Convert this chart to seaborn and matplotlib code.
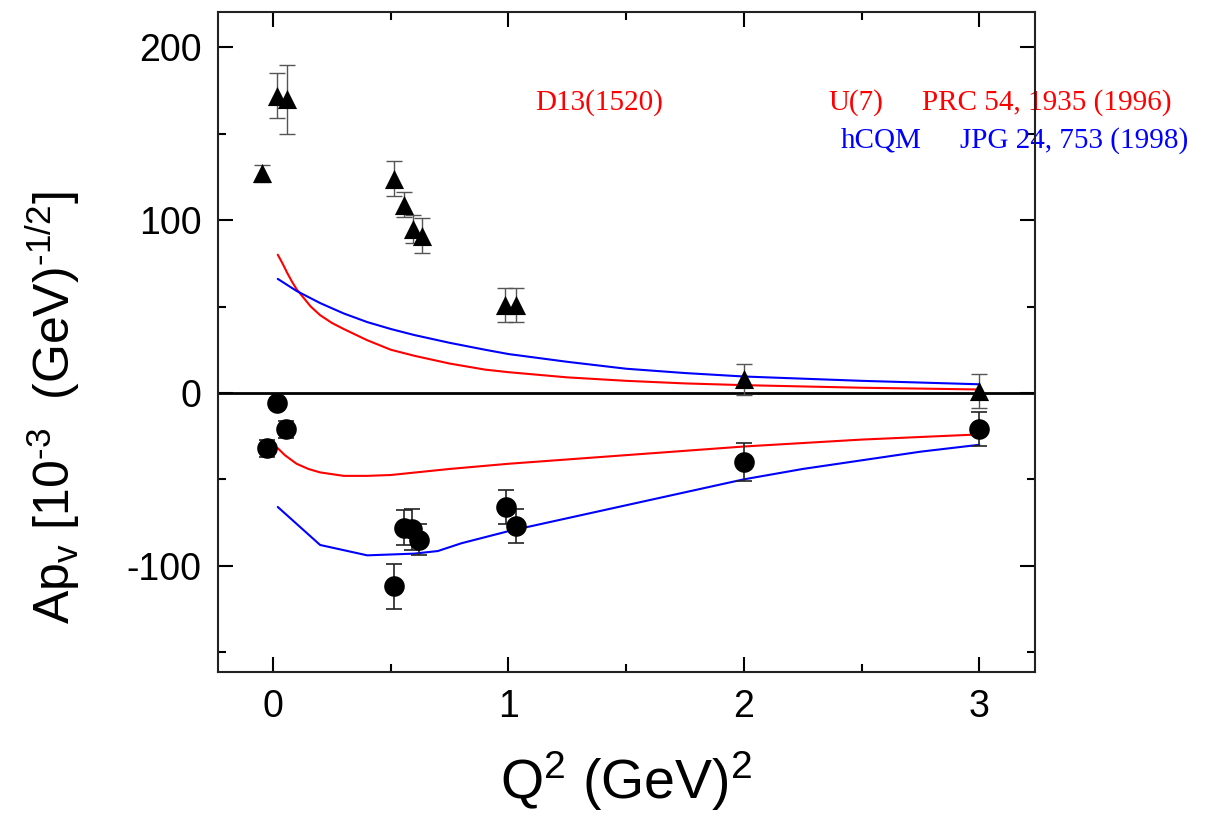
"""Helicity amplitude A^p_v of D13(1520) vs Q^2, data and two quark-model curves."""

import matplotlib
matplotlib.use("Agg")
import matplotlib.pyplot as plt
import numpy as np
import pandas as pd
import seaborn as sns
from matplotlib.ticker import MultipleLocator

# data points: triangles (upper amplitude)
tri_q2 = [-0.047, 0.017, 0.059, 0.514, 0.556, 0.594, 0.633, 0.985, 1.03, 2.0, 3.0]
tri_a = [127, 172, 170, 124, 109, 95, 91, 51, 51, 8, 1]
tri_err = [5, 13, 20, 10, 7, 8, 10, 10, 10, 9, 10]

# data points: circles (lower amplitude)
circ_q2 = [-0.025, 0.017, 0.055, 0.514, 0.556, 0.59, 0.62, 0.99, 1.03, 2.0, 3.0]
circ_a = [-32, -6, -21, -112, -78, -79, -85, -66, -77, -40, -21]
circ_err = [5, 3, 5, 13, 10, 12, 9, 10, 10, 11, 10]

# U(7) model (red)
u7_up_q2 = [0.02, 0.04, 0.06, 0.08, 0.1, 0.13, 0.16, 0.2, 0.25, 0.3, 0.4, 0.5,
            0.6, 0.75, 0.9, 1.0, 1.25, 1.5, 1.75, 2.0, 2.5, 3.0]
u7_up_a = [80, 75, 69.5, 64.5, 60, 55, 50, 45, 40.5, 37, 30.5, 25,
           21.5, 17, 13.5, 12, 9, 7, 5.5, 4.5, 3, 2]
u7_lo_q2 = [0.02, 0.05, 0.1, 0.15, 0.2, 0.3, 0.4, 0.5, 0.75, 1.0, 1.25, 1.5,
            1.75, 2.0, 2.5, 3.0]
u7_lo_a = [-32, -36, -41, -44, -46, -48, -48, -47.5, -44, -41, -38.5, -36,
           -33.5, -31, -27, -24]

# hCQM model (blue)
hcqm_up_q2 = [0.02, 0.06, 0.1, 0.15, 0.2, 0.3, 0.4, 0.5, 0.6, 0.75, 0.9, 1.0,
              1.25, 1.5, 1.75, 2.0, 2.5, 3.0]
hcqm_up_a = [66, 62.5, 59, 55.5, 52, 46, 41, 37, 33.5, 29, 25, 22.5,
             18, 14, 11.5, 9.5, 7, 5]
hcqm_lo_q2 = [0.02, 0.2, 0.4, 0.6, 0.7, 0.8, 0.9, 1.0, 1.25, 1.5, 1.75, 2.0,
              2.25, 2.5, 2.75, 3.0]
hcqm_lo_a = [-66, -88, -94, -93, -91.5, -87, -83.5, -80, -72.5, -65, -57.5, -50,
             -44, -39, -34, -30]

sns.set_theme(style="ticks")
plt.rcParams.update({
    "font.family": ["Liberation Sans", "DejaVu Sans"],
    "mathtext.fontset": "custom",
    "mathtext.rm": "Liberation Sans",
    "mathtext.it": "Liberation Sans",
    "axes.linewidth": 1.5,
    "axes.unicode_minus": False,
    "text.color": "black",
    "axes.labelcolor": "black",
    "xtick.color": "black",
    "ytick.color": "black",
    "xtick.direction": "in",
    "ytick.direction": "in",
})

fig = plt.figure(figsize=(12.17, 8.22), dpi=100)
ax = fig.add_axes([0.1791, 0.1825, 0.6713, 0.803])

curves = [
    (u7_up_q2, u7_up_a, "#ff0000"),
    (u7_lo_q2, u7_lo_a, "#ff0000"),
    (hcqm_up_q2, hcqm_up_a, "#0000ff"),
    (hcqm_lo_q2, hcqm_lo_a, "#0000ff"),
]
for xs, ys, col in curves:
    df = pd.DataFrame({"q2": xs, "a": ys})
    sns.lineplot(data=df, x="q2", y="a", color=col, linewidth=1.5,
                 sort=False, estimator=None, ax=ax, zorder=3)

ax.axhline(0, color="black", linewidth=2, zorder=2)

# error bars
ax.errorbar(tri_q2, tri_a, yerr=tri_err, fmt="none", ecolor="#555555",
            elinewidth=1, capsize=6, capthick=1, zorder=4)
ax.errorbar(circ_q2, circ_a, yerr=circ_err, fmt="none", ecolor="#222222",
            elinewidth=1.2, capsize=6, capthick=1.2, zorder=4)

tri_df = pd.DataFrame({"q2": tri_q2, "a": tri_a})
circ_df = pd.DataFrame({"q2": circ_q2, "a": circ_a})
sns.scatterplot(data=tri_df, x="q2", y="a", marker="^", s=190, color="black",
                edgecolor="black", linewidth=0, ax=ax, zorder=5)
sns.scatterplot(data=circ_df, x="q2", y="a", marker="o", s=220, color="black",
                edgecolor="black", linewidth=0, ax=ax, zorder=5)

ax.set_xlim(-0.234, 3.236)
ax.set_ylim(-161.5, 220.5)
ax.xaxis.set_major_locator(MultipleLocator(1))
ax.xaxis.set_minor_locator(MultipleLocator(0.5))
ax.yaxis.set_major_locator(MultipleLocator(100))
ax.yaxis.set_minor_locator(MultipleLocator(50))
ax.tick_params(which="both", top=True, right=True, width=1.5, labelsize=27)
ax.tick_params(which="major", length=11, pad=12)
ax.tick_params(which="minor", length=6)
for sp in ax.spines.values():
    sp.set_visible(True)
    sp.set_color("#222222")
    sp.set_zorder(6)

ax.set_xlabel(r"Q$^2$ (GeV)$^2$", fontsize=40, labelpad=18)
ax.set_ylabel("Ap$_\\mathregular{v}$ [10$^\\mathregular{\u20103}$  "
              "(GeV)$^\\mathregular{\u20101/2}$]", fontsize=36)
ax.yaxis.set_label_coords(-0.165, 0.40)

serif = ["Liberation Serif", "DejaVu Serif"]
ax.text(1.113, 168, "D13(1520)", color="#ff0000", fontsize=21,
        family=serif, va="center", ha="left")
ax.text(2.357, 168, "U(7)", color="#ff0000", fontsize=21,
        family=serif, va="center", ha="left")
ax.text(2.756, 168, "PRC 54, 1935 (1996)", color="#ff0000", fontsize=21,
        family=serif, va="center", ha="left", clip_on=False, zorder=1)
ax.text(2.41, 146, "hCQM", color="#0000ff", fontsize=21,
        family=serif, va="center", ha="left")
ax.text(2.917, 146, "JPG 24, 753 (1998)", color="#0000ff", fontsize=21,
        family=serif, va="center", ha="left", clip_on=False, zorder=1)

fig.savefig("out.png", dpi=100, facecolor="white")
